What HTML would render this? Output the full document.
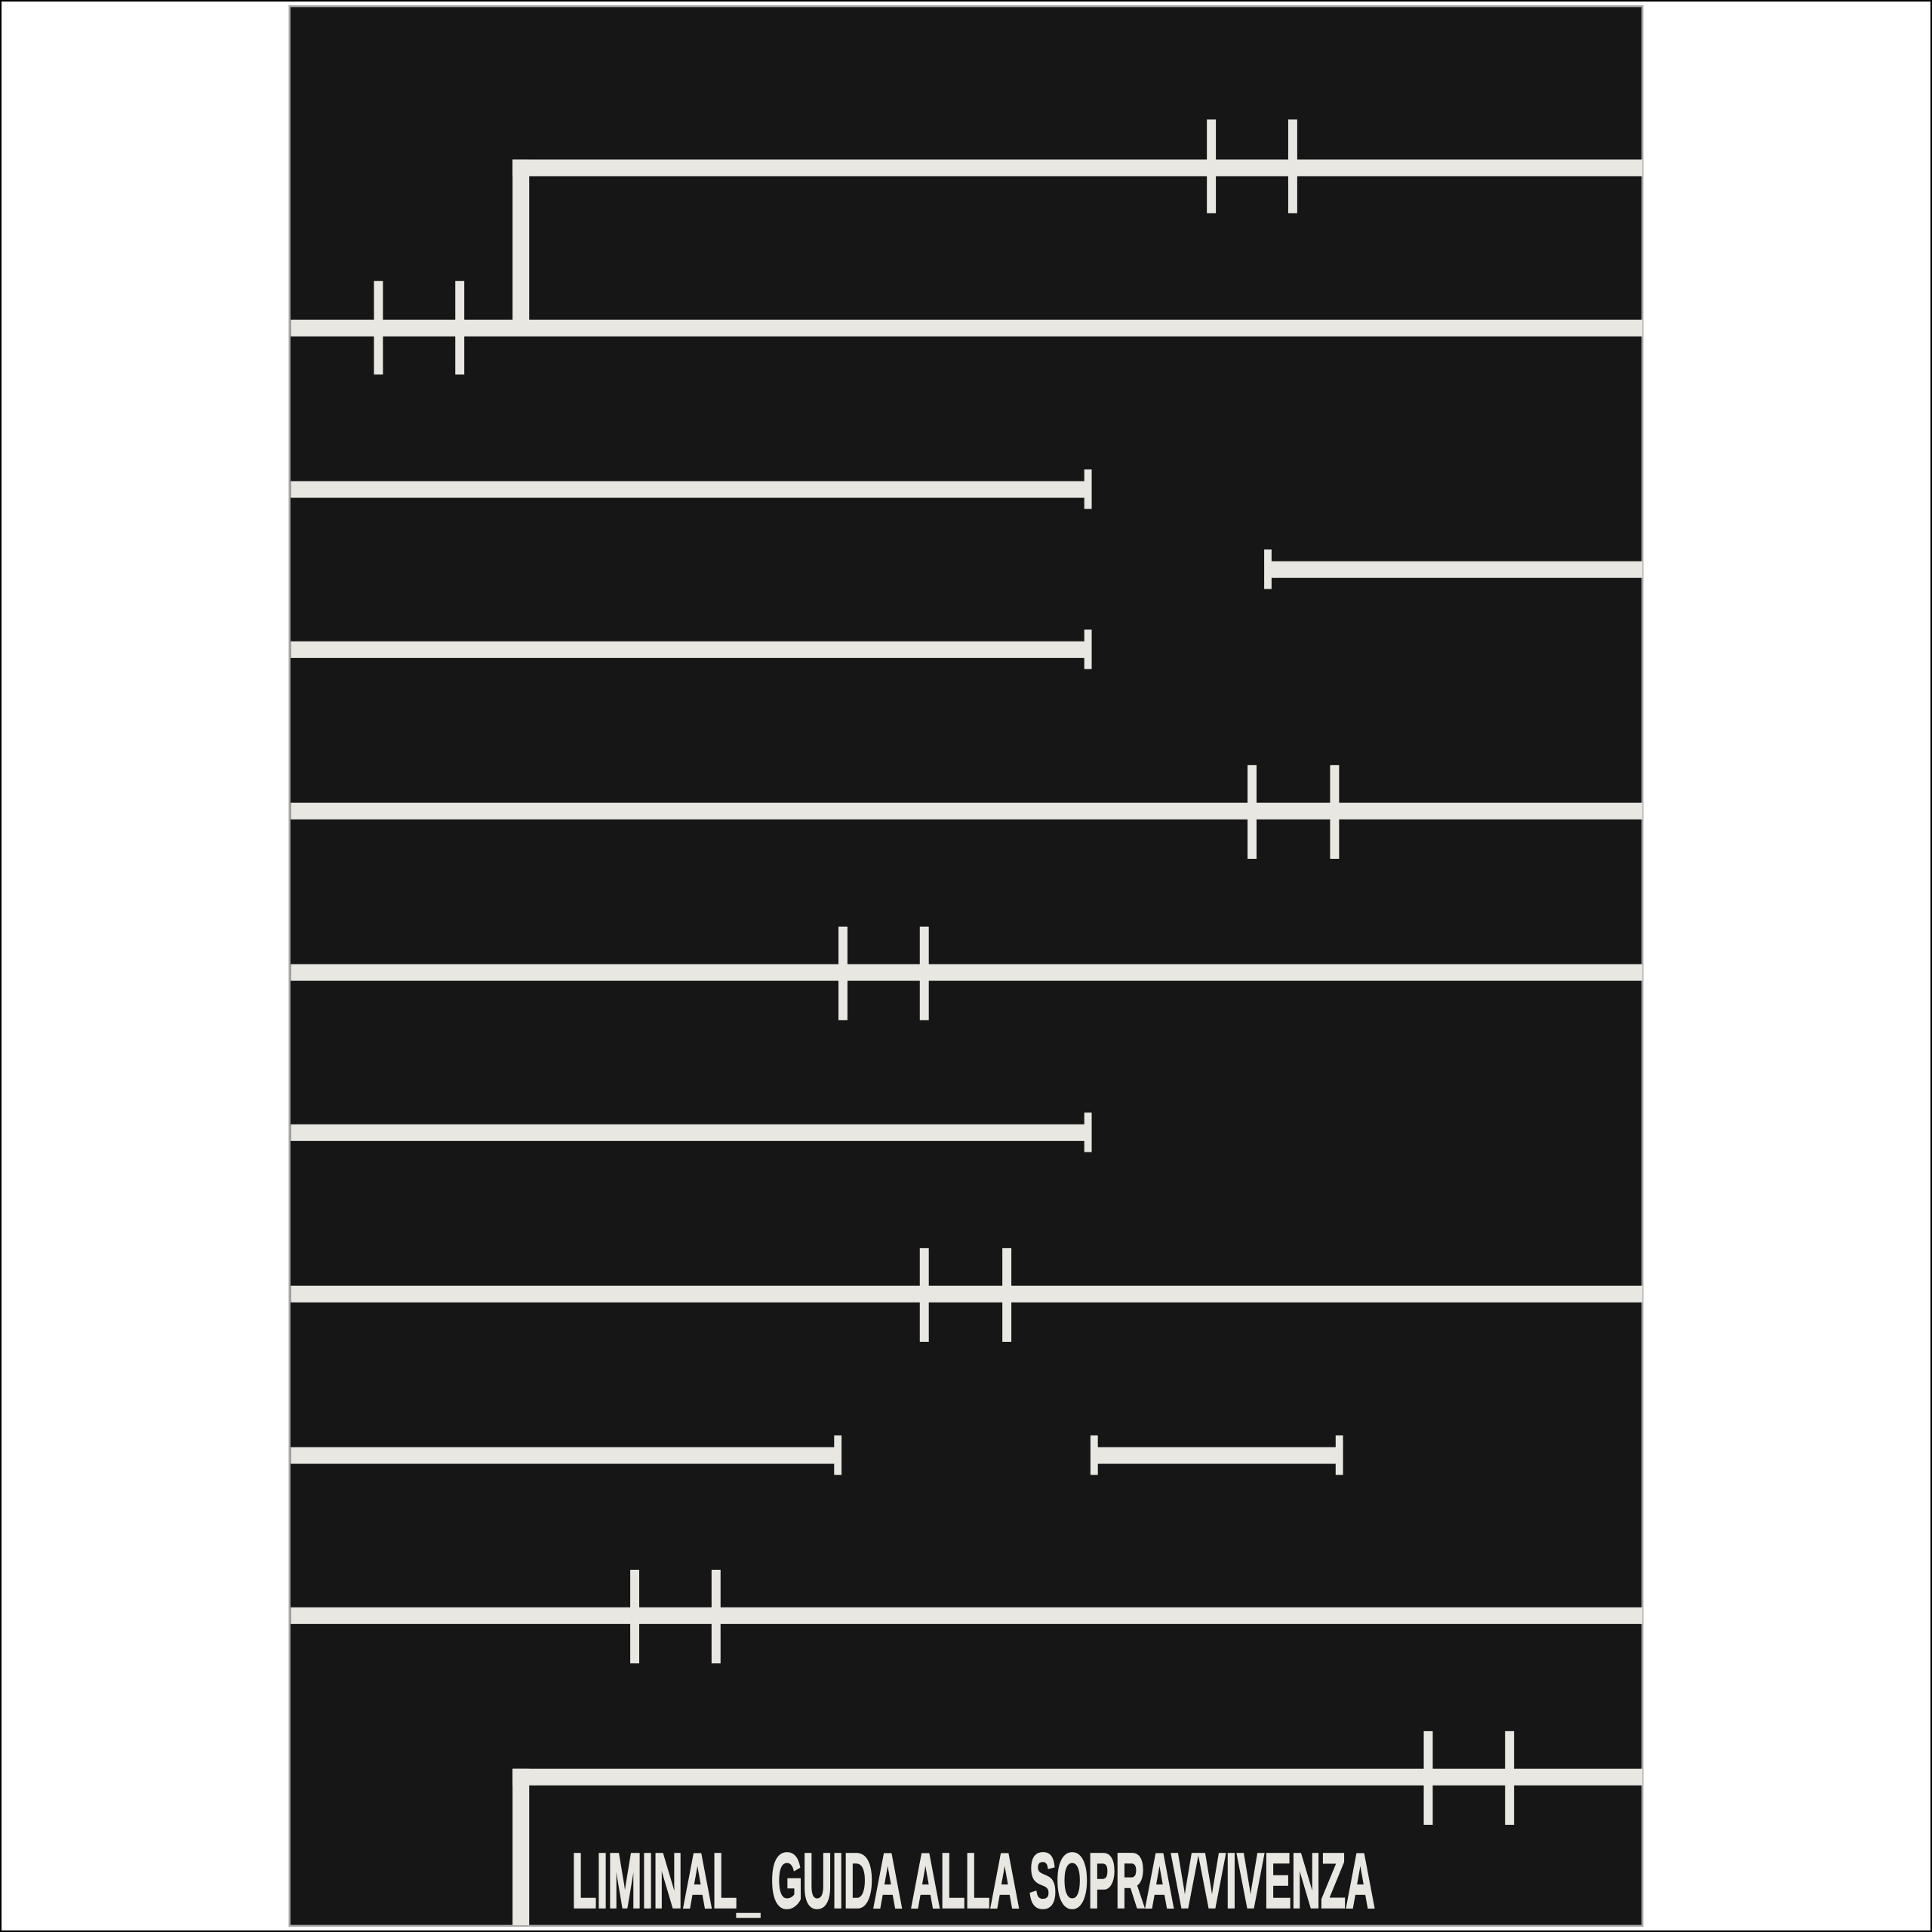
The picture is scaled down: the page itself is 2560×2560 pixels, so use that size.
<!DOCTYPE html>
<html><head><meta charset="utf-8">
<style>
html,body{margin:0;padding:0;background:#fff;}
svg{display:block;width:2560px;height:2560px;}
</style></head>
<body>
<svg viewBox="0 0 1568 1568" xmlns="http://www.w3.org/2000/svg">
<rect x="0.5" y="0.5" width="1567" height="1567" fill="#fff" stroke="#000" stroke-width="1.5"/>
<rect x="235" y="5" width="1098" height="1558" fill="#161616" stroke="#aaa" stroke-width="1.5"/>
<g fill="#e9e7e1">
<rect x="416" y="129.5" width="917" height="13.5"/>
<rect x="416" y="129.5" width="13.5" height="140"/>
<rect x="979.5" y="97" width="7.3" height="76"/>
<rect x="1045.5" y="97" width="7.3" height="76"/>
<rect x="236" y="259.5" width="1097" height="13.5"/>
<rect x="303.5" y="228" width="7.3" height="76"/>
<rect x="369.5" y="228" width="7.3" height="76"/>
<rect x="236" y="390.5" width="648" height="13.5"/>
<rect x="880" y="381" width="6" height="32"/>
<rect x="1027" y="455.5" width="306" height="13.5"/>
<rect x="1026" y="446" width="6" height="32"/>
<rect x="236" y="520.5" width="648" height="13.5"/>
<rect x="880" y="511" width="6" height="32"/>
<rect x="236" y="651.5" width="1097" height="13.5"/>
<rect x="1012.5" y="621" width="7.3" height="76"/>
<rect x="1079.5" y="621" width="7.3" height="76"/>
<rect x="236" y="782.5" width="1097" height="13.5"/>
<rect x="680.5" y="752" width="7.3" height="76"/>
<rect x="746.5" y="752" width="7.3" height="76"/>
<rect x="236" y="912.5" width="648" height="13.5"/>
<rect x="880" y="903" width="6" height="32"/>
<rect x="236" y="1043.5" width="1097" height="13.5"/>
<rect x="746.5" y="1013" width="7.3" height="76"/>
<rect x="813.5" y="1013" width="7.3" height="76"/>
<rect x="236" y="1174.5" width="445" height="13.5"/>
<rect x="677" y="1165" width="6" height="32"/>
<rect x="886" y="1174.5" width="202" height="13.5"/>
<rect x="885" y="1165" width="6" height="32"/>
<rect x="1084" y="1165" width="6" height="32"/>
<rect x="236" y="1304.5" width="1097" height="13.5"/>
<rect x="511.5" y="1274" width="7.3" height="76"/>
<rect x="577.5" y="1274" width="7.3" height="76"/>
<rect x="416" y="1435.5" width="917" height="13.5"/>
<rect x="416" y="1435.5" width="13.5" height="127"/>
<rect x="1155.5" y="1405" width="7.3" height="76"/>
<rect x="1221.5" y="1405" width="7.3" height="76"/>
<text x="464" y="1548" font-family="'Liberation Sans Narrow','Liberation Sans',sans-serif" font-weight="bold" font-size="63" stroke="#e9e7e1" stroke-width="1.6" textLength="652" lengthAdjust="spacingAndGlyphs">LIMINAL_ GUIDA ALLA SOPRAVVIVENZA</text>
</g>
</svg>
</body></html>
